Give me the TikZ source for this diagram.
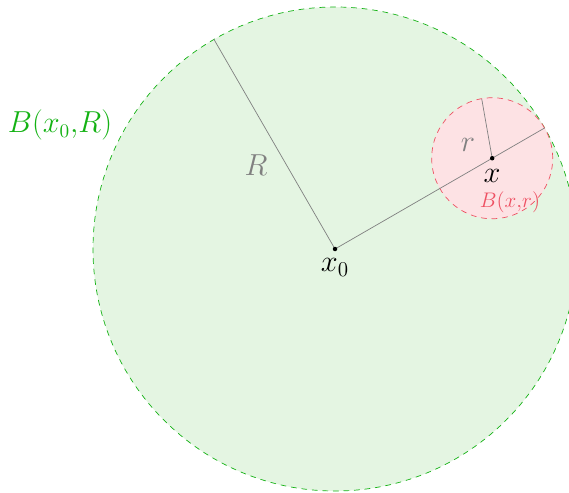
\documentclass[tikz,border=0pt]{standalone}
\usepackage{amsmath,amssymb}
\usepackage{tikz}
\usepackage{xcolor}
\definecolor{ballgreen}{RGB}{228,245,226}
\definecolor{rimgreen}{RGB}{20,178,20}
\definecolor{ballpink}{RGB}{253,226,228}
\definecolor{rimred}{RGB}{238,80,98}

\begin{document}
\begin{tikzpicture}[line cap=round, line join=round]
\useasboundingbox (0,0) rectangle (11.38,9.84);
\clip (0,0) rectangle (11.38,9.84);
\coordinate (xo) at (6.70,4.86);
\coordinate (xx) at ([shift={(30:3.63)}]xo);
\coordinate (bigend) at ([shift={(30:4.84)}]xo);
\coordinate (Rend) at ([shift={(120:4.84)}]xo);
\coordinate (rend) at ([shift={(100:1.20)}]xx);
\fill[ballgreen] (xo) circle (4.84);
\draw[rimgreen, dashed] (xo) circle (4.84);
\fill[ballpink] (xx) circle (1.21);
\draw[rimred, dashed] (xx) circle (1.21);
\draw[gray] (xo) -- (Rend);
\draw[gray] (xo) -- (bigend);
\draw[gray] (xx) -- (rend);
\fill (xo) circle (0.045);
\fill (xx) circle (0.045);
\node (Rlab) at (5.12,6.54) {\fontsize{16.5}{20}\selectfont\color{gray}$R$};
\node (rlab) at (9.36,6.94) {\fontsize{16.5}{20}\selectfont\color{gray}$r$};
\node (xlab) [below=3pt] at (xx) {\fontsize{16.5}{20}\selectfont$x$};
\node (xolab) [below=2pt] at (xo) {\fontsize{16.5}{20}\selectfont$x_0$};
\node (bigname) at (1.20,7.34) {\fontsize{16}{20}\selectfont\color{rimgreen}$B(x_0{,}R)$};
\node (smallname) at (10.20,5.80) {\fontsize{12}{14}\selectfont\color{rimred}$B(x{,}r)$};
\end{tikzpicture}
\end{document}
